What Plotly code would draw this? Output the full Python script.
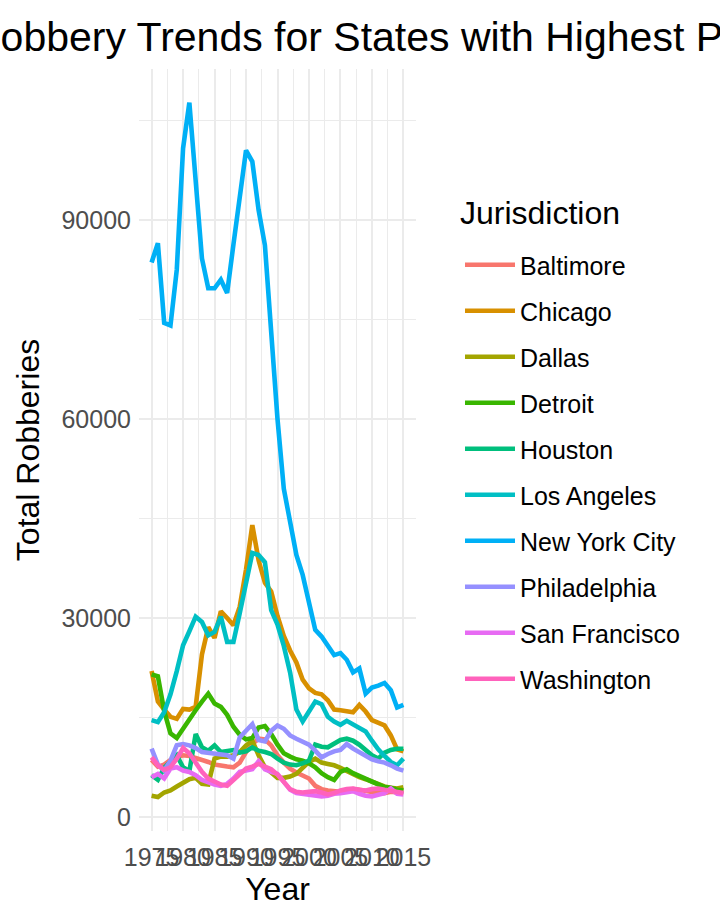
import plotly.graph_objects as go

years = list(range(1975, 2016))

jurisdictions = ["Baltimore", "Chicago", "Dallas", "Detroit", "Houston",
                 "Los Angeles", "New York City", "Philadelphia", "San Francisco", "Washington"]

colors = ["#F8766D", "#D89000", "#A3A500", "#39B600", "#00BF7D",
          "#00BFC4", "#00B0F6", "#9590FF", "#E76BF3", "#FF62BC"]

baltimore = [8600, 7600, 7900, 8600, 9000, 9300, 9200, 8900, 8700, 8300,
             7900, 7700, 7600, 7500, 8200, 9800, 11000, 11800, 11700, 10800,
             9300, 8200, 7300, 6700, 6300, 5800, 4700, 4200, 4000, 3900,
             3800, 4000, 4200, 4100, 3900, 3700, 3600, 3600, 3800, 3700, 3900]
chicago = [22000, 17400, 16200, 15100, 14800, 16300, 16200, 16600, 24500, 28600,
           27000, 31000, 30000, 28900, 31700, 37300, 44000, 38700, 35300, 34000,
           30300, 27300, 25100, 23300, 20700, 19400, 18700, 18500, 17600, 16200,
           16100, 16000, 15800, 16900, 15900, 14600, 14200, 13800, 12300, 10200, 9900]
dallas = [3200, 3000, 3700, 4000, 4600, 5200, 5700, 5900, 5000, 4900,
          8800, 9100, 9100, 9300, 9800, 10800, 11500, 9300, 7500, 6700,
          5900, 5900, 6100, 6500, 7400, 8300, 8800, 8200, 8000, 7800,
          7400, 6900, 6500, 6000, 5700, 5300, 4900, 4600, 4400, 4300, 4500]
detroit = [21500, 21200, 16000, 12600, 11900, 13400, 14900, 16100, 17400, 18600,
           17100, 16600, 15400, 13600, 12400, 11700, 11900, 13500, 13700, 12500,
           10900, 9600, 9100, 8700, 8500, 8100, 7500, 6600, 6000, 5600,
           6800, 7200, 6600, 6200, 5800, 5300, 4900, 4500, 4400, 4100, 4000]
houston = [6300, 5600, 7400, 8300, 9300, 7500, 6900, 12500, 10500, 10000,
           10800, 9800, 9900, 10100, 9700, 9900, 10500, 10000, 9800, 9500,
           8800, 8200, 7900, 7800, 8100, 8500, 10900, 10600, 10500, 11100,
           11600, 11800, 11500, 10900, 10100, 9300, 8800, 9700, 10100, 10300, 10300]
los_angeles = [14600, 14300, 15800, 18500, 22000, 25900, 28000, 30200, 29400, 27400,
               27900, 30200, 26400, 26400, 30700, 35200, 39800, 39500, 38400, 31200,
               29000, 25800, 21800, 16200, 14400, 15900, 17400, 17000, 15100, 14400,
               13900, 14500, 13900, 13500, 12900, 11500, 10200, 9200, 8300, 7800, 8800]
new_york_city = [83600, 86500, 74500, 74100, 82500, 100800, 107700, 95500, 84200, 79700,
                 79700, 81000, 79000, 86300, 93600, 100500, 98800, 91500, 86200, 73000,
                 60000, 49500, 44000, 39500, 36500, 32600, 28200, 27200, 25900, 24400,
                 24700, 23700, 21800, 22400, 18600, 19500, 19800, 20200, 19100, 16500, 16900]
philadelphia = [10300, 7900, 7000, 8500, 10800, 11000, 10800, 10400, 9800, 9700,
                9600, 9500, 9300, 8800, 12000, 13000, 14000, 11600, 11400, 13000,
                13800, 13300, 12300, 11800, 11300, 10900, 10000, 9000, 9500, 9900,
                10100, 11000, 10300, 9700, 9100, 8700, 8400, 8200, 7800, 7300, 7000]
san_francisco = [6000, 6500, 5800, 7300, 7500, 7000, 6800, 6300, 5600, 5200,
                 4900, 4700, 5000, 5800, 6800, 7000, 7200, 8400, 7200, 6800,
                 6500, 5300, 4100, 3600, 3500, 3300, 3200, 3100, 3200, 3500,
                 3600, 3800, 3900, 3500, 3200, 3100, 3300, 3600, 4300, 3500, 3400]
washington = [9000, 7800, 7100, 7500, 8800, 10400, 9600, 8200, 6800, 5800,
              5300, 4900, 4700, 5500, 6500, 7300, 7600, 8000, 7600, 7200,
              6400, 5400, 4200, 3800, 3700, 3800, 3900, 3700, 3400, 3600,
              4000, 4200, 4300, 4100, 4000, 4200, 4300, 4100, 3900, 3700, 3600]

series = [baltimore, chicago, dallas, detroit, houston,
          los_angeles, new_york_city, philadelphia, san_francisco, washington]

x_ticks = [1975, 1980, 1985, 1990, 1995, 2000, 2005, 2010, 2015]
y_ticks = [0, 30000, 60000, 90000]

title_text = "Robbery Trends for States with Highest Population"
legend_title = "Jurisdiction"
FONT = "Liberation Sans, Arial, Helvetica, sans-serif"

# plot panel in pixels
L, R, T, B = 139, 416, 69, 831
PW, PH = R - L, B - T

def px_x(px):
    return (px - L) / PW

def px_y(py):
    return 1 - (py - T) / PH

fig = go.Figure()
for name, vals, col in zip(jurisdictions, series, colors):
    fig.add_trace(go.Scatter(x=years, y=vals, mode="lines", name=name,
                             legendgroup=name,
                             line=dict(color=col, width=4.6)))

fig.update_layout(
    width=720, height=921,
    paper_bgcolor="white", plot_bgcolor="white",
    margin=dict(l=L, r=720 - R, t=T, b=921 - B, autoexpand=False),
    font=dict(family=FONT, color="black"),
    showlegend=True,
    legend=dict(
        x=px_x(460), xanchor="left", y=px_y(242), yanchor="top",
        font=dict(size=25, color="black"),
        tracegroupgap=10.5, itemwidth=50,
        bgcolor="rgba(0,0,0,0)",
    ),
    annotations=[
        dict(text=title_text, xref="paper", yref="paper",
             x=px_x(-31), xanchor="left", y=px_y(37), yanchor="middle",
             showarrow=False, font=dict(size=41, color="black", family=FONT)),
        dict(text=legend_title, xref="paper", yref="paper",
             x=px_x(458), xanchor="left", y=px_y(213), yanchor="middle",
             showarrow=False, font=dict(size=32, color="black", family=FONT)),
    ],
)

fig.update_xaxes(
    range=[1973, 2017], tickmode="array", tickvals=x_ticks,
    ticktext=[str(t) for t in x_ticks], tickangle=0, automargin=False,
    showgrid=True, gridcolor="#EBEBEB", gridwidth=1.6,
    minor=dict(dtick=2.5, tick0=1972.5, showgrid=True, gridcolor="#EBEBEB", gridwidth=0.8),
    zeroline=False, showline=False, ticks="", ticklabelstandoff=9,
    tickfont=dict(size=25, color="#4D4D4D"),
    title=dict(text="Year", font=dict(size=32, color="black"), standoff=6),
)
fig.update_yaxes(
    range=[-2110, 112760], tickmode="array", tickvals=y_ticks,
    ticktext=[str(t) for t in y_ticks], automargin=False,
    showgrid=True, gridcolor="#EBEBEB", gridwidth=1.6,
    minor=dict(tickvals=[15000, 45000, 75000, 105000], showgrid=True,
               gridcolor="#EBEBEB", gridwidth=0.8),
    zeroline=False, showline=False, ticks="", ticklabelstandoff=7,
    tickfont=dict(size=25, color="#4D4D4D"),
    title=dict(text="Total Robberies", font=dict(size=32, color="black"), standoff=12),
)

fig.write_html("out.html",
               config={"displayModeBar": False},
               post_script="document.body.style.margin='0';document.body.style.overflow='hidden';")
